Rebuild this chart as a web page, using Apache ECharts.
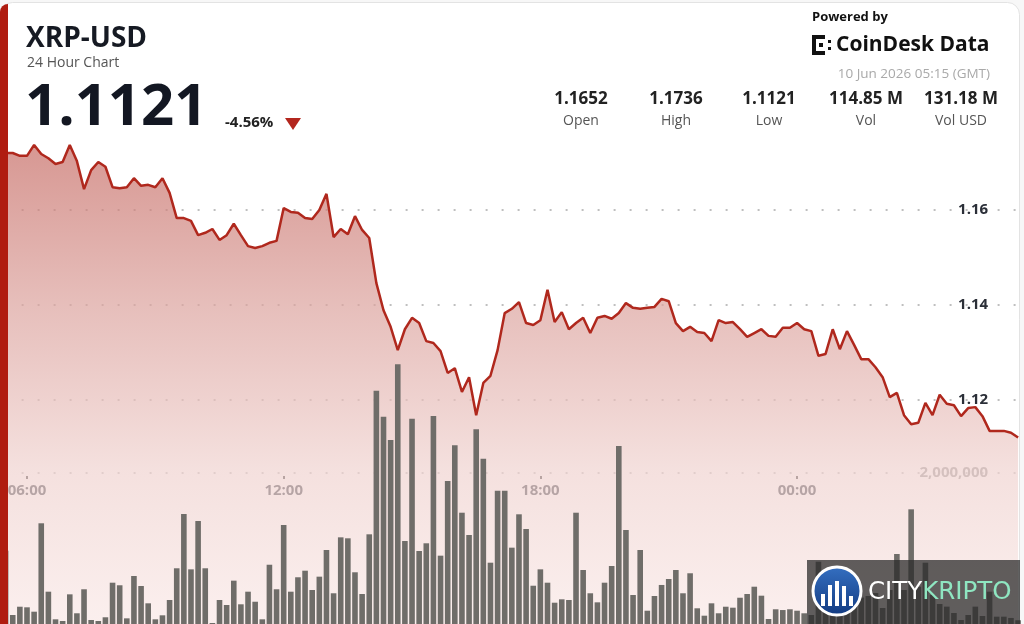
<!DOCTYPE html>
<html><head><meta charset="utf-8">
<script src="https://cdn.jsdelivr.net/npm/echarts@6/dist/echarts.min.js"></script>
<style>html,body{margin:0;padding:0;background:#fff;}#c{width:1024px;height:624px;}</style>
</head><body><div id="c"></div>
<script>
// ---- data ----
const startMinutes = 5 * 60 + 30;   // 05:30, 10-minute buckets
const stepMinutes = 10;
const pointCount = 143;
const times = [];
for (let i = 0; i < pointCount; i++) {
  const m = (startMinutes + i * stepMinutes) % 1440;
  times.push(String(Math.floor(m / 60)).padStart(2, '0') + ':' + String(m % 60).padStart(2, '0'));
}
const price = [
1.1720,1.1720,1.1714,1.1714,1.1737,1.1718,1.1709,1.1697,1.1701,1.1737,
1.1703,1.1644,1.1684,1.1701,1.1691,1.1648,1.1646,1.1648,1.1667,1.1651,
1.1653,1.1648,1.1667,1.1636,1.1583,1.1583,1.1577,1.1547,1.1552,1.1560,
1.1537,1.1547,1.1571,1.1547,1.1524,1.1520,1.1524,1.1531,1.1535,1.1604,
1.1596,1.1594,1.1583,1.1581,1.1600,1.1634,1.1543,1.1560,1.1549,1.1587,
1.1558,1.1541,1.1446,1.1389,1.1354,1.1305,1.1349,1.1373,1.1362,1.1324,
1.1320,1.1303,1.1257,1.1267,1.1217,1.1248,1.1168,1.1236,1.1251,1.1305,
1.1383,1.1392,1.1406,1.1362,1.1358,1.1368,1.1432,1.1364,1.1385,1.1349,
1.1362,1.1373,1.1341,1.1373,1.1377,1.1371,1.1383,1.1404,1.1394,1.1392,
1.1394,1.1396,1.1413,1.1408,1.1362,1.1345,1.1354,1.1343,1.1341,1.1324,
1.1368,1.1362,1.1364,1.1349,1.1333,1.1341,1.1349,1.1335,1.1333,1.1352,
1.1352,1.1362,1.1349,1.1345,1.1293,1.1297,1.1349,1.1307,1.1345,1.1316,
1.1286,1.1286,1.1269,1.1248,1.1206,1.1215,1.1168,1.1149,1.1152,1.1194,
1.1168,1.1211,1.1192,1.1189,1.1166,1.1183,1.1185,1.1166,1.1135,1.1135,
1.1135,1.1131,1.1121];
const volume = [
971000,119000,229000,221000,163000,1334000,428000,62000,40000,393000,
142000,460000,53000,40000,89000,547000,513000,75000,636000,503000,
274000,62000,115000,318000,738000,1457000,724000,1364000,738000,13000,
318000,252000,574000,261000,428000,295000,62000,785000,460000,1311000,
428000,619000,706000,450000,627000,980000,407000,1148000,1135000,685000,
397000,1188000,3090000,2746000,2437000,3440000,1099000,2719000,967000,1069000,
2755000,905000,1894000,2367000,1474000,1179000,2579000,2189000,812000,1766000,
1766000,1011000,1453000,1258000,507000,724000,547000,282000,327000,318000,
1474000,715000,407000,287000,547000,768000,2358000,1245000,384000,980000,
176000,371000,517000,596000,715000,407000,672000,208000,110000,274000,
142000,229000,216000,348000,397000,494000,375000,66000,195000,185000,
195000,176000,142000,119000,825000,300000,250000,350000,400000,300000,
350000,371000,411000,212000,450000,927000,450000,1519000,494000,812000,
384000,265000,230000,146000,53000,119000,230000,106000,428000,97000,
97000,80000,50000];
const timeTickLabels = ['06:00', '12:00', '18:00', '00:00'];
const priceTickLabels = [1.12, 1.14, 1.16];
const volumeTickLabels = [2000000];
const statValues = ['1.1652', '1.1736', '1.1121', '114.85 M', '131.18 M'];
const statLabels = ['Open', 'High', 'Low', 'Vol', 'Vol USD'];

// ---- chart ----
const F = '"Open Sans", "Noto Sans", sans-serif';
const T = 'rgba(0,0,0,0)';
const G = '#aaaaaa';
const chart = echarts.init(document.getElementById('c'), null, {renderer: 'canvas'});
const isTick = (list, v) => list.some(t => Math.abs(t - v) < 1e-6);
const statX = [581, 676, 769, 866, 961];

const graphic = [
  {type:'rect', z:-10, shape:{x:0.5, y:2.5, width:1019, height:680, r:12}, style:{fill:'#ffffff', stroke:'#e3e3e3', lineWidth:1}},
  {type:'rect', z:100, shape:{x:0, y:4, width:8, height:680, r:[8,0,0,0]}, style:{fill:'#b01c10'}},
  {type:'text', z:100, x:26, y:39, style:{text:'XRP-USD', font:'bold 28px ' + F, fill:'#161a23', textVerticalAlign:'middle'}},
  {type:'text', z:100, x:27, y:63, style:{text:'24 Hour Chart', font:'14px ' + F, fill:'#555555', textVerticalAlign:'middle'}},
  {type:'text', z:100, x:25, y:108, style:{text:'1.1121', font:'bold 58px ' + F, fill:'#131722', textVerticalAlign:'middle'}},
  {type:'text', z:100, x:225, y:123, style:{text:'-4.56%', font:'bold 15px ' + F, fill:'#222222', textVerticalAlign:'middle'}},
  {type:'polygon', z:100, shape:{points:[[285,118],[301,118],[293,130]]}, style:{fill:'#b3261e'}},
  {type:'text', z:100, x:812, y:17, style:{text:'Powered by', font:'bold 13px ' + F, fill:'#111111', textVerticalAlign:'middle'}},
  {type:'rect', z:100, shape:{x:812, y:35, width:4, height:20}, style:{fill:'#111'}},
  {type:'rect', z:100, shape:{x:812, y:35, width:13, height:4}, style:{fill:'#111'}},
  {type:'rect', z:100, shape:{x:812, y:51, width:13, height:4}, style:{fill:'#111'}},
  {type:'rect', z:100, shape:{x:819, y:43, width:4, height:4}, style:{fill:'#111'}},
  {type:'rect', z:100, shape:{x:828, y:40, width:3, height:3}, style:{fill:'#111'}},
  {type:'rect', z:100, shape:{x:828, y:47, width:3, height:3}, style:{fill:'#111'}},
  {type:'text', z:100, x:836, y:45, style:{text:'CoinDesk Data', font:'bold 21px ' + F, fill:'#111111', textVerticalAlign:'middle'}},
  {type:'text', z:100, x:990, y:74, style:{text:'10 Jun 2026 05:15 (GMT)', font:'13.5px ' + F, fill:'#a9a9a9', textAlign:'right', textVerticalAlign:'middle'}},
  // watermark
  {type:'rect', z:110, shape:{x:807, y:560, width:213, height:70}, style:{fill:'rgba(42,42,42,0.74)'}},
  {type:'circle', z:111, shape:{cx:837, cy:591, r:24}, style:{fill:new echarts.graphic.LinearGradient(0,0,0,1,[{offset:0,color:'#3570c2'},{offset:1,color:'#123a80'}]), stroke:'#ffffff', lineWidth:3}},
  {type:'rect', z:112, shape:{x:821, y:594, width:4, height:12}, style:{fill:'#fff'}},
  {type:'rect', z:112, shape:{x:828, y:585, width:4, height:21}, style:{fill:'#fff'}},
  {type:'rect', z:112, shape:{x:835, y:581, width:4, height:25}, style:{fill:'#fff'}},
  {type:'rect', z:112, shape:{x:842, y:586, width:4, height:20}, style:{fill:'#fff'}},
  {type:'rect', z:112, shape:{x:849, y:596, width:4, height:10}, style:{fill:'#fff'}},
  {type:'text', z:112, x:868, y:593, style:{text:'{a|CITY}{b|KRIPTO}', textVerticalAlign:'middle', rich:{a:{fill:'#ffffff', font:'24.5px "DejaVu Sans", sans-serif'}, b:{fill:'#8fe6c1', font:'24.5px "DejaVu Sans", sans-serif'}}}}
];
statValues.forEach((v, i) => {
  graphic.push({type:'text', z:100, x:statX[i], y:99, style:{text:v, font:'bold 17px ' + F, fill:'#222222', textAlign:'center', textVerticalAlign:'middle'}});
  graphic.push({type:'text', z:100, x:statX[i], y:121, style:{text:statLabels[i], font:'14px ' + F, fill:'#555555', textAlign:'center', textVerticalAlign:'middle'}});
});

const option = {
  animation: false,
  backgroundColor: '#f7f7f7',
  textStyle: {fontFamily: F},
  grid: [
    {left: 5.6, right: 5.9, top: 115, height: 570, containLabel: false, outerBoundsMode: 'none'},
    {left: 5.6, right: 5.9, top: 322, height: 302, containLabel: false, outerBoundsMode: 'none'}
  ],
  xAxis: [
    {type:'category', gridIndex:0, data:times, boundaryGap:false, show:false},
    {type:'category', gridIndex:1, data:times, boundaryGap:false, position:'bottom', offset:-157,
     axisLine:{show:false},
     axisTick:{show:true, inside:true, length:3, interval:(i, v) => timeTickLabels.includes(v), lineStyle:{color:'#333', width:2}},
     axisLabel:{show:true, interval:(i, v) => timeTickLabels.includes(v), margin:16, color:'#2b2f38', fontWeight:'bold', fontSize:15, fontFamily:F},
     splitLine:{show:false}}
  ],
  yAxis: [
    {type:'value', gridIndex:0, min:1.06, max:1.18, interval:0.02, position:'right',
     axisLine:{show:false}, axisTick:{show:false},
     axisLabel:{inside:true, margin:30, color:'#2b2f38', fontWeight:'bold', fontSize:15, fontFamily:F,
       formatter: v => isTick(priceTickLabels, v) ? v.toFixed(2) : ''},
     splitLine:{show:true, showMinLine:true, showMaxLine:true, lineStyle:{color:[T,T,T,G,G,G,T], type:[2,14], width:1.6}}},
    {type:'value', gridIndex:1, min:0, max:4000000, interval:2000000, position:'right',
     axisLine:{show:false}, axisTick:{show:false},
     axisLabel:{inside:true, margin:30, color:'#949494', fontWeight:'bold', fontSize:15, fontFamily:F,
       formatter: v => isTick(volumeTickLabels, v) ? v.toLocaleString('en-US') : ''},
     splitLine:{show:true, showMinLine:true, showMaxLine:true, lineStyle:{color:[T,G,T], type:[2,14], width:1.6}}}
  ],
  series: [
    {type:'line', xAxisIndex:0, yAxisIndex:0, data:price, symbol:'none', z:2,
     lineStyle:{color:'#b0281d', width:2.5},
     areaStyle:{color:new echarts.graphic.LinearGradient(0,0,0,1,[
       {offset:0, color:'#c66b64'}, {offset:0.3, color:'#dca39e'}, {offset:0.6, color:'#f0d3d0'},
       {offset:0.85, color:'#f8e6e4'}, {offset:1, color:'#fbeeed'}])}},
    {type:'bar', xAxisIndex:1, yAxisIndex:1, data:volume, barWidth:5.6, z:3, itemStyle:{color:'#6f6d69'}}
  ],
  graphic: graphic
};
chart.setOption(option);
</script></body></html>
